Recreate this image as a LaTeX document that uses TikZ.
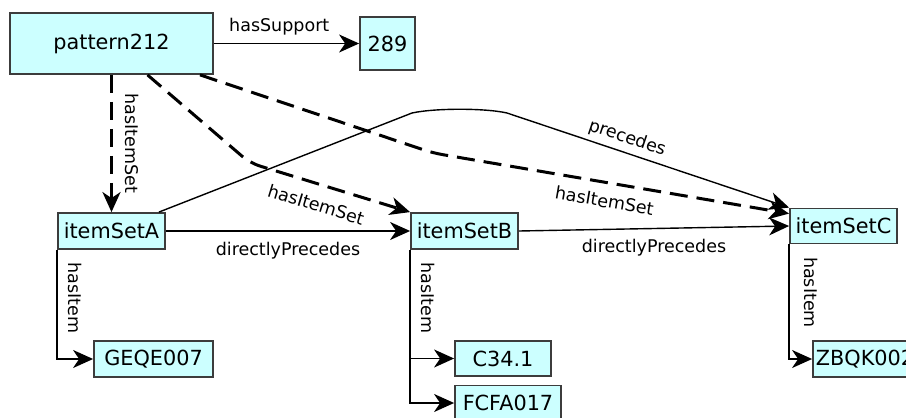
\documentclass[tikz,border=0pt]{standalone}
\usepackage{fontspec}
\setmainfont{DejaVu Sans}
\usetikzlibrary{arrows.meta, calc}
\definecolor{boxfill}{RGB}{204,255,255}
\definecolor{boxline}{RGB}{60,60,60}

\begin{document}
\begin{tikzpicture}[x=1pt, y=-1pt,
    blk/.style={draw=boxline, line width=1.8pt, fill=boxfill, inner sep=0pt, minimum height=36pt, font=\fontsize{20.8}{24}\selectfont},
    link/.style={draw, line width=1.4pt, -{Stealth[length=20pt, width=18pt, inset=6pt]}},
    dlink/.style={link, line width=3pt, dash pattern=on 18pt off 9pt},
    lbl/.style={font=\fontsize{17.5}{20}\selectfont, inner sep=0pt},
    vlbl/.style={lbl, rotate=-90, anchor=south, inner ysep=10pt}
]
    \useasboundingbox (0,0) rectangle (906,418);
    \clip (0,0) rectangle (906,418);
    \node[blk, minimum width=203pt, minimum height=61pt] (pat) at (111.5,43.5) {pattern212};
    \node[blk, minimum width=55pt, minimum height=53pt] (sup) at (387.5,43.5) {289};
    \node[blk, minimum width=107pt] (setA) at (111.5,231) {itemSetA};
    \node[blk, minimum width=107pt] (setB) at (464.5,231) {itemSetB};
    \node[blk, minimum width=107pt, minimum height=35pt] (setC) at (843.5,226) {itemSetC};
    \node[blk, minimum width=119pt] (geqe) at (153.5,359) {GEQE007};
    \node[blk, minimum width=96pt, minimum height=35pt] (c34) at (503,358.5) {C34.1};
    \node[blk, minimum width=106pt, minimum height=35pt] (fcfa) at (508,403) {FCFA017};
    \node[blk, minimum width=104pt] (zbqk) at (865,359) {ZBQK002};

    % bend points
    \coordinate (bB) at (250,163);
    \coordinate (bC) at (433,153);
    \coordinate (pr1) at (412,113);
    \coordinate (pr2) at (507,113);

    \draw[link] (pat.east) -- node[lbl, above=8pt, pos=0.45] {hasSupport} (sup.west);

    % hasItemSet
    \draw[dlink] (pat.south) -- node[vlbl, inner ysep=12pt] {hasItemSet} (setA.north);
    \draw[dlink, rounded corners=10pt] ([xshift=36pt]pat.south) -- (bB)
        -- node[lbl, sloped, below=12pt, pos=0.45] {hasItemSet} (setB.north west);
    \draw[dlink, rounded corners=10pt] ([xshift=88.5pt]pat.south) -- (bC)
        -- node[lbl, sloped, below=10pt, pos=0.49] {hasItemSet} ([yshift=-6pt]setC.north west);

    % precedes
    \draw[link] ([xshift=-7pt]setA.north east) -- (pr1) .. controls (435,108) and (485,108) .. (pr2)
        -- node[lbl, sloped, above=5pt, pos=0.41] {precedes} (setC.north west);
    \draw[link] (setA.east) -- node[lbl, below=10pt] {directlyPrecedes} (setB.west);
    \draw[link] (setB.east) -- node[lbl, below=10pt] {directlyPrecedes} (setC.west);

    % hasItem
    \draw[link] (setA.south west) |- node[vlbl, pos=0.22] {hasItem} (geqe.west);
    \draw[link] (setB.south west) |- node[vlbl, pos=0.22] {hasItem} (c34.west);
    \draw[link] (setB.south west) |- (fcfa.west);
    \draw[link] (setC.south west) |- node[vlbl, pos=0.21, inner ysep=14pt] {hasItem} (zbqk.west);
\end{tikzpicture}
\end{document}
